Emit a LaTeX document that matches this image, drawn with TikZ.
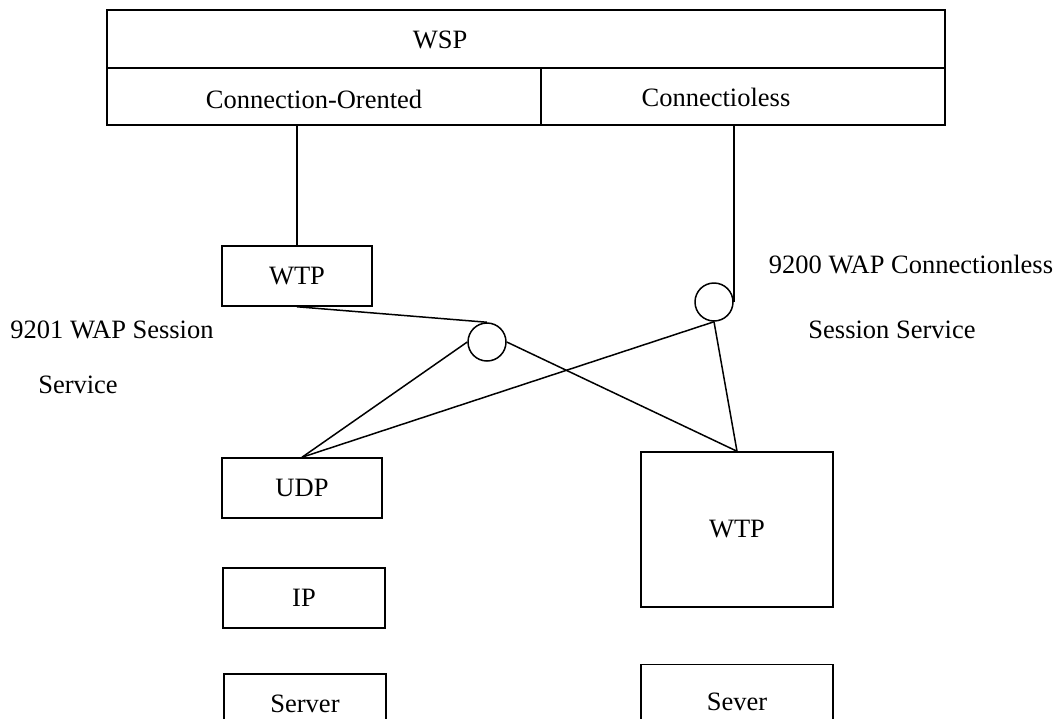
\documentclass[tikz,border=0pt]{standalone}
\usepackage{fontspec}
\setmainfont{Liberation Serif}
\usetikzlibrary{positioning}

\begin{document}
\begin{tikzpicture}[x=1pt,y=-1pt,line width=1.5pt]
\tikzstyle{every node}=[font=\fontsize{26.5}{30}\selectfont]
\tikzstyle{cell}=[draw, inner sep=0pt]
\tikzstyle{junction}=[draw, circle, minimum size=38pt, inner sep=0pt]
\useasboundingbox (0,0) rectangle (1057,718);
\clip (0,0) rectangle (1057,718);

\node[cell, minimum width=838pt, minimum height=58pt] (wsp) at (526,39) {};
\node[cell, minimum width=434pt, minimum height=57pt] (co) at (324,96.5) {};
\node[cell, minimum width=404pt, minimum height=57pt] (cl) at (743,96.5) {};
\node at (440,40) {WSP};
\node at (314,99) {Connection-Orented};
\node at (716,97) {Connectioless};

\node[cell, minimum width=150pt, minimum height=60pt] (wtpa) at (297,276) {WTP};
\node[cell, minimum width=160pt, minimum height=60pt] (udp) at (302,488) {UDP};
\node[cell, minimum width=162pt, minimum height=60pt] (ip) at (304,598) {IP};
\node[cell, minimum width=162pt, minimum height=60pt] (srv) at (305,704) {Server};
\node[cell, minimum width=192pt, minimum height=155pt] (wtpb) at (737,529.5) {WTP};
\node[cell, minimum width=192pt, minimum height=75pt] (sev) at (737,702) {Sever};

\node[junction] (ja) at (487,342) {};
\node[junction] (jb) at (714,302) {};

\node at (112,330) {9201 WAP Session};
\node at (78,385) {Service};
\node at (911,265) {9200 WAP Connectionless};
\node at (892,330) {Session Service};

\draw (wtpa.north |- co.south) -- (wtpa.north);
\draw (jb.east |- cl.south) -- (jb.east);
\draw (wtpa.south) -- (ja.north);
\draw (ja.west) -- (udp.north);
\draw (ja.east) -- (wtpb.north);
\draw (jb.south) -- (udp.north);
\draw (jb.south) -- (wtpb.north);

\end{tikzpicture}
\end{document}
